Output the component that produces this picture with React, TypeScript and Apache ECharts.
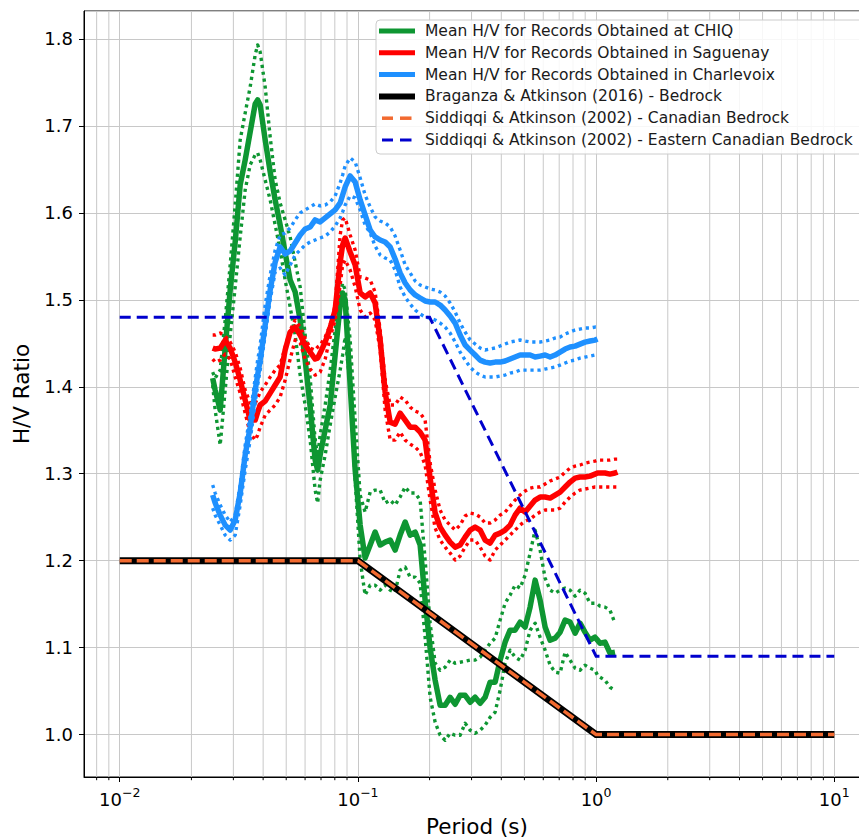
import React, { useEffect, useRef } from 'react';
import * as echarts from 'echarts';

// Period grid (s) shared by the measured H/V curves
const periods = [0.02456, 0.02516, 0.02641, 0.02772, 0.02909, 0.03053, 0.03204, 0.03363, 0.03529, 0.03704,
  0.03794, 0.03887, 0.04080, 0.04282, 0.04494, 0.04716, 0.04950, 0.05195, 0.05452, 0.05722,
  0.06005, 0.06303, 0.06615, 0.06776, 0.06942, 0.07286, 0.07647, 0.08025, 0.08423, 0.08628,
  0.08840, 0.09277, 0.09737, 0.1022, 0.1072, 0.1126, 0.1181, 0.1240, 0.1301, 0.1366,
  0.1433, 0.1504, 0.1579, 0.1657, 0.1739, 0.1825, 0.1915, 0.2010, 0.2110, 0.2214,
  0.2324, 0.2439, 0.2560, 0.2686, 0.2819, 0.2959, 0.3105, 0.3259, 0.3420, 0.3590,
  0.3768, 0.3954, 0.4150, 0.4355, 0.4571, 0.4797, 0.5035, 0.5284, 0.5546, 0.5820,
  0.6109, 0.6411, 0.6728, 0.7062, 0.7411, 0.7778, 0.8163, 0.8560, 0.8983, 0.9427,
  0.9894, 1.0136, 1.0384, 1.0898, 1.1438, 1.2004, 1.2297];

const chiqMean = [1.4100, 1.3962, 1.3732, 1.4445, 1.5113, 1.5666, 1.6322, 1.6609, 1.6931, 1.7253,
  1.7299, 1.7242, 1.6839, 1.6471, 1.6149, 1.5861, 1.5539, 1.5228, 1.5090, 1.4768,
  1.4308, 1.3766, 1.3157, 1.3042, 1.3215, 1.3502, 1.3790, 1.4365, 1.4940, 1.5078,
  1.4998, 1.4020, 1.3042, 1.2409, 1.2030, 1.2180, 1.2329, 1.2180, 1.2214, 1.2237,
  1.2122, 1.2294, 1.2444, 1.2294, 1.2329, 1.2180, 1.1546, 1.0994, 1.0625, 1.0337,
  1.0337, 1.0429, 1.0349, 1.0452, 1.0452, 1.0372, 1.0429, 1.0360, 1.0429, 1.0602,
  1.0602, 1.0856, 1.1063, 1.1201, 1.1201, 1.1293, 1.1236, 1.1466, 1.1776, 1.1546,
  1.1236, 1.1086, 1.1109, 1.1178, 1.1316, 1.1293, 1.1166, 1.1281, 1.1178, 1.1086,
  1.1120, 1.1086, 1.1051, 1.1063, 1.0936, 1.0947];
const chiqUpper = [1.4169, 1.4100, 1.4192, 1.4768, 1.5401, 1.6091, 1.6839, 1.7149, 1.7449, 1.7817,
  1.7932, 1.7851, 1.7449, 1.6873, 1.6379, 1.6114, 1.5919, 1.5723, 1.5435, 1.5148,
  1.4595, 1.4100, 1.3387, 1.3203, 1.3444, 1.3790, 1.4192, 1.4653, 1.5056, 1.5193,
  1.5113, 1.4538, 1.3617, 1.2755, 1.2559, 1.2789, 1.2812, 1.2812, 1.2663, 1.2697,
  1.2640, 1.2732, 1.2847, 1.2778, 1.2778, 1.2697, 1.2007, 1.1281, 1.0821, 1.0740,
  1.0775, 1.0856, 1.0821, 1.0832, 1.0844, 1.0856, 1.0856, 1.0890, 1.0971, 1.1051,
  1.1109, 1.1316, 1.1511, 1.1604, 1.1719, 1.1684, 1.1834, 1.2088, 1.2352, 1.2122,
  1.1799, 1.1661, 1.1627, 1.1661, 1.1684, 1.1661, 1.1592, 1.1661, 1.1627, 1.1511,
  1.1511, 1.1500, 1.1477, 1.1466, 1.1431, 1.1281];
const chiqLower = [1.4020, 1.3732, 1.3329, 1.3962, 1.4595, 1.5148, 1.5723, 1.6264, 1.6552, 1.6667,
  1.6690, 1.6609, 1.6379, 1.6149, 1.5861, 1.5573, 1.5228, 1.4918, 1.4595, 1.4135,
  1.3790, 1.3387, 1.2812, 1.2663, 1.2927, 1.3215, 1.3560, 1.3882, 1.4192, 1.4365,
  1.4572, 1.4020, 1.2927, 1.2007, 1.1604, 1.1719, 1.1719, 1.1661, 1.1719, 1.1661,
  1.1638, 1.1891, 1.1926, 1.1811, 1.1811, 1.1742, 1.1120, 1.0429, 1.0142, 0.9992,
  0.9935, 1.0015, 0.9992, 0.9992, 1.0130, 1.0050, 1.0015, 1.0050, 1.0107, 1.0199,
  1.0257, 1.0510, 1.0821, 1.0971, 1.0890, 1.0856, 1.0971, 1.1201, 1.1281, 1.1120,
  1.0971, 1.0798, 1.0718, 1.0706, 1.0948, 1.0856, 1.0764, 1.0740, 1.0798, 1.0764,
  1.0740, 1.0683, 1.0660, 1.0625, 1.0545, 1.0510];

const saguenayMean = [1.4445, 1.4434, 1.4445, 1.4537, 1.4445, 1.4284, 1.4077, 1.3847, 1.3617, 1.3617,
  1.3709, 1.3790, 1.3835, 1.3927, 1.4020, 1.4112, 1.4422, 1.4629, 1.4687, 1.4595,
  1.4480, 1.4399, 1.4319, 1.4330, 1.4388, 1.4514, 1.4676, 1.4883, 1.5435, 1.5631,
  1.5711, 1.5550, 1.5401, 1.5079, 1.5033, 1.5079, 1.4963, 1.4537, 1.3939, 1.3594,
  1.3571, 1.3697, 1.3617, 1.3536, 1.3536, 1.3479, 1.3387, 1.2950, 1.2548, 1.2386,
  1.2294, 1.2214, 1.2156, 1.2180, 1.2271, 1.2352, 1.2386, 1.2352, 1.2237, 1.2203,
  1.2294, 1.2317, 1.2352, 1.2409, 1.2524, 1.2605, 1.2559, 1.2628, 1.2697, 1.2732,
  1.2732, 1.2720, 1.2755, 1.2789, 1.2847, 1.2904, 1.2950, 1.2962, 1.2962, 1.2973,
  1.2996, 1.3008, 1.3008, 1.3008, 1.2996, 1.3008, 1.3019];
const saguenayUpper = [1.4595, 1.4595, 1.4618, 1.4583, 1.4514, 1.4399, 1.4215, 1.3962, 1.3812, 1.3812,
  1.3870, 1.3939, 1.4020, 1.4112, 1.4192, 1.4250, 1.4457, 1.4653, 1.4768, 1.4687,
  1.4561, 1.4445, 1.4422, 1.4457, 1.4480, 1.4572, 1.4710, 1.4940, 1.5746, 1.5919,
  1.5942, 1.5746, 1.5573, 1.5263, 1.5251, 1.5228, 1.5090, 1.4653, 1.4077, 1.3790,
  1.3790, 1.3882, 1.3847, 1.3766, 1.3720, 1.3697, 1.3617, 1.3122, 1.2812, 1.2582,
  1.2467, 1.2409, 1.2352, 1.2409, 1.2513, 1.2548, 1.2536, 1.2502, 1.2433, 1.2433,
  1.2467, 1.2524, 1.2559, 1.2628, 1.2697, 1.2755, 1.2801, 1.2835, 1.2847, 1.2847,
  1.2881, 1.2916, 1.2939, 1.2962, 1.3019, 1.3065, 1.3088, 1.3100, 1.3122, 1.3134,
  1.3145, 1.3157, 1.3157, 1.3157, 1.3157, 1.3168, 1.3168];
const saguenayLower = [1.4319, 1.4284, 1.4307, 1.4376, 1.4319, 1.4112, 1.3927, 1.3697, 1.3467, 1.3387,
  1.3444, 1.3536, 1.3674, 1.3732, 1.3790, 1.3882, 1.4077, 1.4319, 1.4537, 1.4503,
  1.4319, 1.4204, 1.4135, 1.4146, 1.4169, 1.4319, 1.4572, 1.4768, 1.5171, 1.5401,
  1.5458, 1.5343, 1.5148, 1.4883, 1.4803, 1.4848, 1.4768, 1.4422, 1.3732, 1.3387,
  1.3387, 1.3479, 1.3387, 1.3341, 1.3306, 1.3249, 1.3099, 1.2697, 1.2375, 1.2237,
  1.2156, 1.2087, 1.2007, 1.2053, 1.2156, 1.2237, 1.2237, 1.2156, 1.2053, 1.2007,
  1.2122, 1.2180, 1.2237, 1.2294, 1.2352, 1.2409, 1.2455, 1.2478, 1.2524, 1.2559,
  1.2582, 1.2582, 1.2582, 1.2605, 1.2674, 1.2732, 1.2778, 1.2812, 1.2824, 1.2835,
  1.2847, 1.2847, 1.2847, 1.2847, 1.2847, 1.2847, 1.2847];

const charlevoixMean = [1.2755, 1.2663, 1.2524, 1.2409, 1.2352, 1.2467, 1.2778, 1.3215, 1.3536, 1.3962,
  1.4135, 1.4307, 1.4710, 1.5113, 1.5435, 1.5608, 1.5527, 1.5562, 1.5654, 1.5746,
  1.5815, 1.5838, 1.5919, 1.5907, 1.5896, 1.5942, 1.5988, 1.6034, 1.6114, 1.6206,
  1.6298, 1.6425, 1.6356, 1.6149, 1.5976, 1.5803, 1.5723, 1.5688, 1.5665, 1.5608,
  1.5470, 1.5309, 1.5194, 1.5113, 1.5056, 1.5021, 1.4987, 1.4975, 1.4975, 1.4940,
  1.4883, 1.4814, 1.4733, 1.4595, 1.4480, 1.4422, 1.4365, 1.4307, 1.4284, 1.4273,
  1.4284, 1.4284, 1.4296, 1.4319, 1.4342, 1.4365, 1.4365, 1.4365, 1.4342, 1.4353,
  1.4365, 1.4342, 1.4365, 1.4399, 1.4434, 1.4457, 1.4468, 1.4491, 1.4514, 1.4526,
  1.4537, 1.4549];
const charlevoixUpper = [1.2870, 1.2778, 1.2640, 1.2524, 1.2444, 1.2524, 1.2870, 1.3329, 1.3674, 1.4100,
  1.4307, 1.4480, 1.4940, 1.5286, 1.5573, 1.5746, 1.5769, 1.5827, 1.5919, 1.6000,
  1.6034, 1.6068, 1.6103, 1.6091, 1.6080, 1.6091, 1.6126, 1.6195, 1.6344, 1.6436,
  1.6540, 1.6632, 1.6586, 1.6402, 1.6206, 1.6068, 1.5953, 1.5907, 1.5884, 1.5838,
  1.5734, 1.5573, 1.5401, 1.5309, 1.5217, 1.5171, 1.5148, 1.5125, 1.5113, 1.5090,
  1.5044, 1.4964, 1.4860, 1.4733, 1.4630, 1.4538, 1.4492, 1.4446, 1.4423, 1.4434,
  1.4446, 1.4469, 1.4492, 1.4515, 1.4526, 1.4538, 1.4526, 1.4515, 1.4515, 1.4515,
  1.4526, 1.4538, 1.4561, 1.4572, 1.4607, 1.4630, 1.4653, 1.4664, 1.4676, 1.4676,
  1.4687, 1.4687];
const charlevoixLower = [1.2605, 1.2524, 1.2409, 1.2294, 1.2237, 1.2294, 1.2640, 1.3042, 1.3387, 1.3812,
  1.4020, 1.4192, 1.4595, 1.4998, 1.5320, 1.5366, 1.5286, 1.5401, 1.5516, 1.5573,
  1.5631, 1.5665, 1.5688, 1.5700, 1.5711, 1.5734, 1.5780, 1.5849, 1.5942, 1.6011,
  1.6091, 1.6195, 1.6172, 1.6034, 1.5861, 1.5769, 1.5619, 1.5516, 1.5481, 1.5458,
  1.5343, 1.5148, 1.5033, 1.4952, 1.4883, 1.4837, 1.4803, 1.4791, 1.4768, 1.4733,
  1.4687, 1.4618, 1.4515, 1.4399, 1.4307, 1.4227, 1.4169, 1.4135, 1.4112, 1.4112,
  1.4112, 1.4123, 1.4135, 1.4158, 1.4169, 1.4192, 1.4192, 1.4192, 1.4192, 1.4192,
  1.4204, 1.4215, 1.4227, 1.4250, 1.4273, 1.4296, 1.4307, 1.4330, 1.4342, 1.4353,
  1.4365, 1.4365];

// Reference models
const braganzaPeriods = [0.01, 0.1, 1, 10];
const braganzaValues = [1.2, 1.2, 1.0, 1.0];
const siddiqqiCanadianPeriods = [0.01, 0.1, 1, 10];
const siddiqqiCanadianValues = [1.2, 1.2, 1.0, 1.0];
const siddiqqiEasternPeriods = [0.01, 0.2, 1, 10];
const siddiqqiEasternValues = [1.48, 1.48, 1.09, 1.09];

// Log-axis minor tick positions
const minorTicks = [0.008, 0.009,
  0.02, 0.03, 0.04, 0.05, 0.06, 0.07, 0.08, 0.09,
  0.2, 0.3, 0.4, 0.5, 0.6, 0.7, 0.8, 0.9,
  2, 3, 4, 5, 6, 7, 8, 9];

const legendLabels = [
  'Mean H/V for Records Obtained at CHIQ',
  'Mean H/V for Records Obtained in Saguenay',
  'Mean H/V for Records Obtained in Charlevoix',
  'Braganza & Atkinson (2016) - Bedrock',
  'Siddiqqi & Atkinson (2002) - Canadian Bedrock',
  'Siddiqqi & Atkinson (2002) - Eastern Canadian Bedrock',
];

const FONT = 'DejaVu Sans';
const GREEN = '#0e9632';
const RED = '#ff0000';
const LIGHTBLUE = '#1e90ff';
const ORANGE = '#f26a30';
const DARKBLUE = '#0000cd';
const GRIDC = '#c8c8c8';

const X_MIN = Math.pow(10, -2.15);
const X_MAX = Math.pow(10, 1.15);
const Y_MIN = 0.9512;
const Y_MAX = 1.8322;

export default function App() {
  const ref = useRef<HTMLDivElement>(null);

  useEffect(() => {
    if (!ref.current) return;
    const chart = echarts.init(ref.current, undefined, { renderer: 'svg' });

    const curve = (name: string, vals: number[], color: string, width: number, type: any) => ({
      type: 'line',
      name,
      data: vals.map((v, i) => [periods[i], v]),
      symbol: 'none',
      showSymbol: false,
      silent: true,
      animation: false,
      emphasis: { disabled: true },
      lineStyle: { color, width, type, cap: 'butt', join: 'round' },
      z: 3,
    });
    const ref2 = (name: string, xs: number[], ys: number[], color: string, width: number, type: any) => ({
      type: 'line',
      name,
      data: xs.map((x, i) => [x, ys[i]]),
      symbol: 'none',
      showSymbol: false,
      silent: true,
      animation: false,
      emphasis: { disabled: true },
      lineStyle: { color, width, type, cap: 'butt', join: 'miter' },
      z: 3,
    });

    const gridData: any[] = [];
    minorTicks.forEach((p) => { gridData.push([p, Y_MIN], [p, Y_MAX], [p, null]); });
    const tickData: any[] = [];
    minorTicks.forEach((p) => { tickData.push([p, Y_MIN], [p, Y_MIN - 3.2 / 869], [p, null]); });

    const DOT: any = [3.2, 3.8];
    const DW = 3.4;
    const MW = 5.5;
    const series: any[] = [
      {
        type: 'line', name: 'minorGrid', data: gridData, symbol: 'none', silent: true,
        connectNulls: false, lineStyle: { color: GRIDC, width: 1 }, z: 1, emphasis: { disabled: true },
      },
      {
        type: 'line', name: 'minorTicks', data: tickData, symbol: 'none', silent: true, clip: false,
        connectNulls: false, lineStyle: { color: '#000', width: 1 }, z: 1, emphasis: { disabled: true },
      },
      curve(legendLabels[0], chiqMean, GREEN, MW, 'solid'),
      curve('CHIQ upper', chiqUpper, GREEN, DW, DOT),
      curve('CHIQ lower', chiqLower, GREEN, DW, DOT),
      curve(legendLabels[1], saguenayMean, RED, MW, 'solid'),
      curve('Saguenay upper', saguenayUpper, RED, DW, DOT),
      curve('Saguenay lower', saguenayLower, RED, DW, DOT),
      curve(legendLabels[2], charlevoixMean, LIGHTBLUE, MW, 'solid'),
      curve('Charlevoix upper', charlevoixUpper, LIGHTBLUE, DW, DOT),
      curve('Charlevoix lower', charlevoixLower, LIGHTBLUE, DW, DOT),
      ref2(legendLabels[3], braganzaPeriods, braganzaValues, '#000', 7, 'solid'),
      ref2(legendLabels[4], siddiqqiCanadianPeriods, siddiqqiCanadianValues, ORANGE, 3.5, [12, 5]),
      ref2(legendLabels[5], siddiqqiEasternPeriods, siddiqqiEasternValues, DARKBLUE, 3, [11, 6]),
    ];

    // Legend (matplotlib-like box)
    const rowY = (i: number) => 31 + i * 21.8;
    const handles: any[] = [];
    const solidColors = [GREEN, RED, LIGHTBLUE, '#000'];
    const solidWidths = [5, 5, 5, 6];
    for (let i = 0; i < 4; i++) {
      handles.push({
        type: 'line', z: 101, silent: true,
        shape: { x1: 379, y1: rowY(i), x2: 415, y2: rowY(i) },
        style: { stroke: solidColors[i], lineWidth: solidWidths[i] },
      });
    }
    const dashColors = [ORANGE, DARKBLUE];
    const dashWidths = [3.5, 3];
    for (let k = 0; k < 2; k++) {
      const y = rowY(4 + k);
      handles.push({ type: 'line', z: 101, silent: true, shape: { x1: 382, y1: y, x2: 393, y2: y }, style: { stroke: dashColors[k], lineWidth: dashWidths[k] } });
      handles.push({ type: 'line', z: 101, silent: true, shape: { x1: 400, y1: y, x2: 411.5, y2: y }, style: { stroke: dashColors[k], lineWidth: dashWidths[k] } });
    }
    const texts = legendLabels.map((t, i) => ({
      type: 'text', z: 101, silent: true, x: 425, y: rowY(i),
      style: { text: t, fontSize: 15.5, fontFamily: FONT, fill: '#1a1a1a', verticalAlign: 'middle', align: 'left' },
    }));

    chart.setOption({
      animation: false,
      backgroundColor: '#ffffff',
      grid: {
        left: 84, right: -11, top: 11, bottom: 62,
        show: true, borderColor: '#000', borderWidth: 1, backgroundColor: 'transparent',
        containLabel: false, outerBoundsMode: 'none',
      },
      xAxis: {
        type: 'log', logBase: 10, min: X_MIN, max: X_MAX,
        axisLine: { show: true, onZero: false, lineStyle: { color: '#000', width: 1 } },
        axisTick: { show: true, inside: false, length: 5, lineStyle: { color: '#000', width: 1 } },
        axisLabel: {
          showMinLabel: false, showMaxLabel: false, margin: 9,
          formatter: (v: number) => {
            const e = Math.round(Math.log10(v));
            const s = e < 0 ? '\u2212' + (-e) : String(e);
            return '{b|10}{s|' + s + '}';
          },
          rich: {
            b: { fontSize: 18, fontFamily: FONT, color: '#000', lineHeight: 22, verticalAlign: 'bottom' },
            s: { fontSize: 12.5, fontFamily: FONT, color: '#000', lineHeight: 14, verticalAlign: 'top' },
          },
        },
        splitLine: { show: true, lineStyle: { color: GRIDC, width: 1 } },
        minorTick: { show: false },
        name: 'Period (s)', nameLocation: 'middle', nameGap: 38,
        nameTextStyle: { fontSize: 21.5, fontFamily: FONT, color: '#000' },
      },
      yAxis: {
        type: 'value', min: Y_MIN, max: Y_MAX, splitNumber: 9, minInterval: 0.1, maxInterval: 0.1,
        axisLine: { show: true, lineStyle: { color: '#000', width: 1 } },
        axisTick: { show: true, inside: false, length: 5, lineStyle: { color: '#000', width: 1 } },
        axisLabel: {
          showMinLabel: false, showMaxLabel: false, margin: 11,
          formatter: (v: number) => v.toFixed(1),
          fontSize: 18, fontFamily: FONT, color: '#000',
        },
        splitLine: { show: true, lineStyle: { color: GRIDC, width: 1 } },
        name: 'H/V Ratio', nameLocation: 'middle', nameGap: 52, nameRotate: 90,
        nameTextStyle: { fontSize: 21.5, fontFamily: FONT, color: '#000' },
      },
      series,
      graphic: [
        {
          type: 'rect', z: 100, silent: true,
          shape: { x: 376, y: 20, width: 494, height: 134, r: 4 },
          style: { fill: 'rgba(255,255,255,0.85)', stroke: '#cccccc', lineWidth: 1 },
        },
        ...handles,
        ...texts,
      ],
    });

    return () => { chart.dispose(); };
  }, []);

  return (
    <div
      ref={ref}
      style={{ position: 'fixed', left: 0, top: 0, width: 859, height: 839, background: '#fff' }}
    />
  );
}
